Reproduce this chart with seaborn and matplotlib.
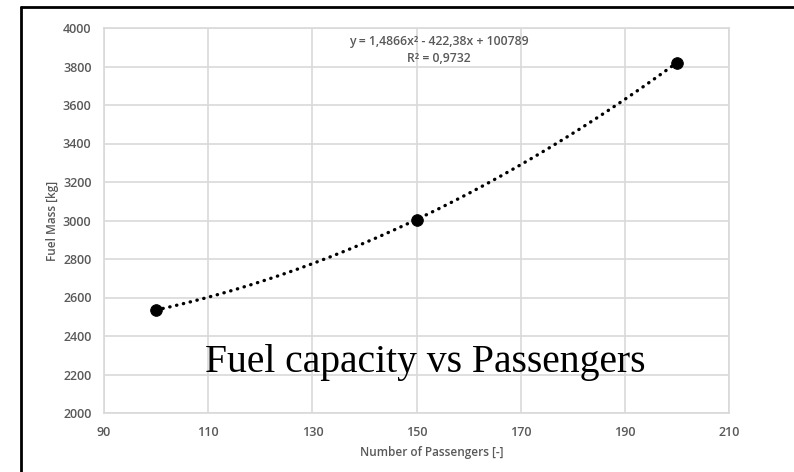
import numpy as np
import pandas as pd
import matplotlib
matplotlib.use("Agg")
import matplotlib.pyplot as plt
from matplotlib.lines import Line2D
import seaborn as sns

passengers = [100, 150, 200]
fuel_mass = [2535, 3005, 3820]
x_ticks = [90, 110, 130, 150, 170, 190, 210]
y_ticks = [2000, 2200, 2400, 2600, 2800, 3000, 3200, 3400, 3600, 3800, 4000]
equation_text = "y = 1,4866x² - 422,38x + 100789"
r2_text = "R² = 0,9732"
title_text = "Fuel capacity vs Passengers"

sns.set_theme(style="white")
plt.rcParams['font.family'] = ['Open Sans', 'DejaVu Sans']

df = pd.DataFrame({"Passengers": passengers, "Fuel": fuel_mass})
coef = np.polyfit(passengers, fuel_mass, 2)
xs = np.linspace(min(passengers), max(passengers), 200)
trend = pd.DataFrame({"Passengers": xs, "Fuel": np.polyval(coef, xs)})

fig = plt.figure(figsize=(7.94, 4.72), dpi=100)
ax = fig.add_axes([104/794, 1-413/472, (729-104)/794, (413-28)/472])

sns.lineplot(data=trend, x="Passengers", y="Fuel", ax=ax, color="black",
             linewidth=2.4, linestyle=(0, (0.1, 2.0)), dash_capstyle="round", zorder=3)
sns.scatterplot(data=df, x="Passengers", y="Fuel", ax=ax, color="black",
                s=70, edgecolor="black", zorder=4)

ax.set_xlim(90, 210)
ax.set_ylim(2000, 4000)
ax.set_xticks(x_ticks)
ax.set_yticks(y_ticks)
gray = "#595959"
ax.tick_params(axis="both", labelsize=9, colors=gray, length=0, pad=9)
for lab in ax.get_xticklabels() + ax.get_yticklabels():
    lab.set_fontweight("semibold")
ax.grid(True, color="#d9d9d9", linewidth=1.2)
for s in ax.spines.values():
    s.set_color("#d9d9d9")
    s.set_linewidth(1.2)
ax.set_xlabel("Number of Passengers [-]", fontsize=8.5, color=gray, fontweight="semibold")
ax.set_ylabel("Fuel Mass [kg]", fontsize=8.5, color=gray, fontweight="semibold")
ax.xaxis.set_label_coords(0.525, -0.085)
ax.yaxis.set_label_coords(-0.072, 0.5)

ax.text(0.535, 0.964, equation_text, transform=ax.transAxes, ha="center", va="center",
        fontsize=8.8, color=gray, fontweight="semibold")
ax.text(0.535, 0.92, r2_text, transform=ax.transAxes, ha="center", va="center",
        fontsize=8.8, color=gray, fontweight="semibold")

ax.text(0.514, 0.107, title_text, transform=ax.transAxes, ha="center", va="baseline",
        fontsize=28.5, color="black", family=["Liberation Serif", "DejaVu Serif"])

# figure border (left and top visible)
fig.add_artist(Line2D([21/794, 21/794], [0, 1-7/472], transform=fig.transFigure, color="black", linewidth=2))
fig.add_artist(Line2D([21/794, 1], [1-7/472, 1-7/472], transform=fig.transFigure, color="black", linewidth=2))

fig.savefig("out.png", dpi=100)
